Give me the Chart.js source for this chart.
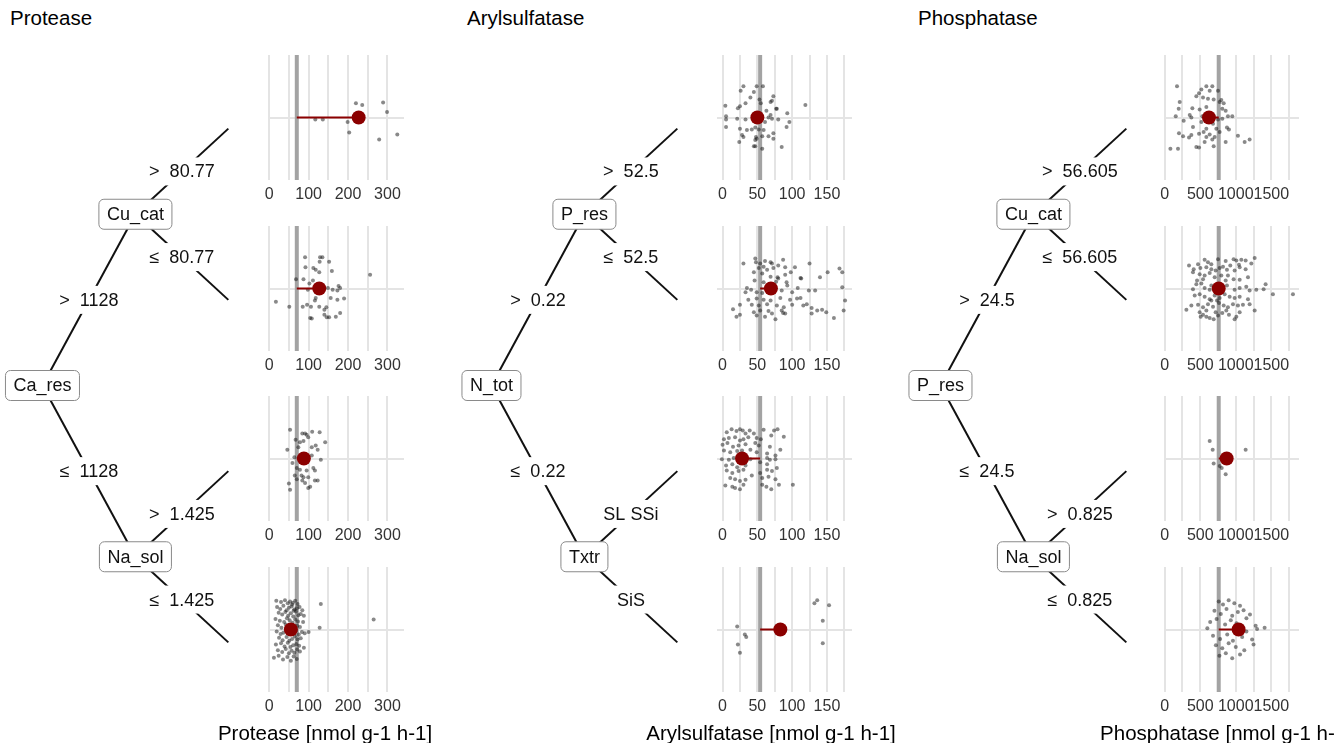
<!DOCTYPE html>
<html>
<head>
<meta charset="utf-8">
<script src="https://cdn.jsdelivr.net/npm/chart.js@4.4.1/dist/chart.umd.min.js"></script>
<style>
  body { margin: 0; background: #fff; width: 1336px; height: 743px; overflow: hidden; position: relative;
         font-family: "Liberation Sans", Arial, sans-serif; }
  canvas { position: absolute; }
  .title { position: absolute; font-size: 20.5px; line-height: 26px; color: #000; white-space: nowrap; }
  .axt { position: absolute; font-size: 20.5px; line-height: 24px; color: #000; white-space: nowrap; transform: translateX(-50%); }
</style>
</head>
<body>
<script>
// --- data ---
const panelNames = ['Protease', 'Arylsulfatase', 'Phosphatase'];
const axisTitles = ['Protease [nmol g-1 h-1]', 'Arylsulfatase [nmol g-1 h-1]', 'Phosphatase [nmol g-1 h-1]'];

// tree: root, upper inner node, lower inner node
const treeNodes = [
  ['Ca_res', 'Cu_cat', 'Na_sol'],
  ['N_tot', 'P_res', 'Txtr'],
  ['P_res', 'Cu_cat', 'Na_sol']
];
// edge labels: root->upper, root->lower, upper->leaf1, upper->leaf2, lower->leaf3, lower->leaf4
const treeEdgeLabels = [
  ['>  1128', '≤  1128', '>  80.77', '≤  80.77', '>  1.425', '≤  1.425'],
  ['>  0.22', '≤  0.22', '>  52.5', '≤  52.5', 'SL SSi', 'SiS'],
  ['>  24.5', '≤  24.5', '>  56.605', '≤  56.605', '>  0.825', '≤  0.825']
];

// overall mean (grey line) and leaf means (red dots)
const overallMeans = [70, 54, 760];
const proteaseLeafMeans = [227, 127, 88, 55];
const arylLeafMeans = [50, 69.5, 28, 83];
const phosLeafMeans = [623, 760, 872, 1040];

// x scales
const xRanges = [[-0.5, 342], [-8, 186], [-10, 1890]];
const xGrid = [
  [0, 50, 100, 150, 200, 250, 300],
  [0, 25, 50, 75, 100, 125, 150, 175],
  [0, 250, 500, 750, 1000, 1250, 1500, 1750]
];
const xTickLabels = [[0, 100, 200, 300], [0, 50, 100, 150], [0, 500, 1000, 1500]];

// observations per leaf: value and vertical jitter
const proteaseX = [
  [117, 136, 199, 203, 220, 236, 289, 299, 279, 325],
  [91, 129, 135, 128, 152, 92, 112, 118, 127, 159, 68, 87, 111, 102, 256, 149, 161, 176, 180, 173, 98, 17, 51, 85, 96, 106, 116, 118, 127, 140, 145, 156, 173, 190, 140, 146, 152, 169, 180, 104, 108],
  [53, 84, 91, 95, 109, 128, 67, 78, 87, 99, 142, 118, 74, 46, 108, 123, 64, 59, 131, 108, 70, 78, 95, 112, 116, 65, 70, 87, 99, 116, 123, 50, 53, 84, 91, 104, 99, 82],
  [18, 30, 40, 47, 53, 60, 66, 72, 58, 131,
   20, 28, 36, 44, 50, 57, 64, 70, 77, 84, 62,
   24, 33, 41, 48, 55, 61, 68, 74, 80, 88, 265,
   16, 27, 38, 45, 52, 59, 66, 73, 86,
   22, 31, 42, 49, 63, 71, 78, 128,
   19, 29, 36, 68, 75, 83, 90, 100,
   25, 34, 44, 51, 58, 65, 72, 80,
   17, 30, 39, 47, 54, 61, 69, 76, 88,
   22, 33, 42, 50, 57, 64, 71, 78,
   12, 24, 35, 46, 55, 62, 70]
];
const proteaseJitter = [
  [-0.03, -0.03, -0.07, -0.24, 0.23, 0.2, 0.24, 0.09, -0.35, -0.27],
  [0.5, 0.5, 0.5, 0.43, 0.43, 0.34, 0.33, 0.3, 0.26, 0.28, 0.15, 0.15, 0.13, 0.08, 0.22, 0.01, -0.02, 0.04, 0.01, -0.03, -0.02, -0.21, -0.29, -0.29, -0.26, -0.29, -0.19, -0.15, -0.29, -0.34, -0.3, -0.15, -0.18, -0.16, -0.42, -0.46, -0.46, -0.45, -0.39, -0.47, -0.48],
  [0.46, 0.4, 0.4, 0.38, 0.43, 0.42, 0.3, 0.26, 0.28, 0.34, 0.26, 0.21, 0.18, 0.14, 0.18, 0.14, 0.02, -0.07, -0.02, 0.05, -0.15, -0.18, -0.19, -0.15, -0.19, -0.27, -0.33, -0.3, -0.3, -0.35, -0.35, -0.4, -0.5, -0.35, -0.39, -0.45, -0.47, -0.27],
  [0.46, 0.44, 0.47, 0.42, 0.45, 0.43, 0.46, 0.41, 0.4, 0.41,
   0.36, 0.33, 0.38, 0.31, 0.35, 0.37, 0.32, 0.34, 0.36, 0.31, 0.3,
   0.27, 0.24, 0.28, 0.22, 0.26, 0.21, 0.29, 0.23, 0.25, 0.22, 0.16,
   0.17, 0.14, 0.12, 0.18, 0.15, 0.11, 0.16, 0.13, 0.12,
   0.07, 0.03, 0.08, 0.05, 0.02, 0.06, 0.04, 0.03,
   -0.03, -0.07, -0.05, -0.02, -0.08, -0.04, -0.06, -0.04,
   -0.13, -0.17, -0.12, -0.18, -0.15, -0.11, -0.16, -0.14,
   -0.24, -0.22, -0.27, -0.21, -0.28, -0.25, -0.23, -0.26, -0.29,
   -0.33, -0.36, -0.31, -0.38, -0.34, -0.37, -0.32, -0.35,
   -0.45, -0.42, -0.48, -0.44, -0.5, -0.43, -0.47]
];

const arylX = [
  [30, 26, 49, 58, 45, 40, 33, 25, 53, 55, 69, 73, 71, 77, 4, 22, 63, 69, 78, 93, 119, 5, 5, 21, 33, 66, 71, 80, 96, 5, 92, 25, 35, 42, 47, 52, 28, 30, 48, 57, 66, 73, 73, 24, 47, 49, 45, 47, 57, 85, 59, 61],
  [30, 47, 48, 54, 61, 69, 71, 87, 125, 52, 59, 64, 73, 80, 90, 104, 98, 168, 172, 151, 45, 57, 69, 79, 90, 112, 140, 46, 59, 77, 80, 93, 108, 172, 35, 41, 33, 49, 57, 85, 100, 124, 133, 176, 37, 49, 59, 69, 83, 97, 107, 112, 121, 25, 15, 42, 52, 64, 78, 88, 100, 116, 128, 136, 143, 45, 54, 66, 71, 85, 90, 20, 25, 49, 61, 76, 128, 149, 174, 160, 87, 113, 92, 69],
  [6, 13, 20, 25, 29, 33, 39, 45, 59, 74, 79, 88, 2, 9, 18, 25, 30, 37, 49, 55, 70, 0, 7, 15, 23, 33, 47, 52, 68, 83, 2, 11, 21, 28, 40, 49, 64, 76, -1, 9, 16, 40, 64, 68, 76, 5, 14, 21, 33, 54, 64, 78, 6, 14, 23, 30, 42, 54, 64, 71, 11, 18, 25, 33, 57, 66, 76, 4, 14, 18, 25, 30, 57, 63, 70, 81, 101],
  [21, 32, 34, 22, 25, 132, 136, 153, 144, 144]
];
const arylJitter = [
  [0.5, 0.43, 0.5, 0.5, 0.41, 0.32, 0.23, 0.18, 0.29, 0.23, 0.25, 0.34, 0.27, 0.14, 0.19, 0.15, 0.11, 0.04, 0.14, 0.07, 0.2, 0.02, -0.03, -0.02, -0.03, 0, -0.02, -0.03, -0.07, -0.15, -0.15, -0.18, -0.2, -0.19, -0.16, -0.19, -0.28, -0.31, -0.31, -0.3, -0.3, -0.25, -0.34, -0.39, -0.36, -0.34, -0.46, -0.46, -0.5, -0.47, -0.2, -0.07],
  [0.4, 0.48, 0.42, 0.4, 0.44, 0.42, 0.4, 0.46, 0.4, 0.33, 0.35, 0.3, 0.33, 0.37, 0.34, 0.34, 0.26, 0.32, 0.26, 0.26, 0.26, 0.24, 0.19, 0.18, 0.22, 0.17, 0.18, 0.13, 0.1, 0.11, 0.16, 0.05, 0.01, 0.02, 0.01, -0.02, -0.06, -0.06, -0.07, -0.03, -0.06, -0.03, -0.03, -0.19, -0.18, -0.16, -0.18, -0.19, -0.15, -0.18, -0.16, -0.15, -0.25, -0.26, -0.33, -0.26, -0.27, -0.25, -0.27, -0.3, -0.26, -0.27, -0.31, -0.35, -0.34, -0.38, -0.35, -0.36, -0.4, -0.35, -0.4, -0.45, -0.42, -0.43, -0.45, -0.49, -0.4, -0.38, -0.35, -0.47, -0.39, 0.16, 0.1, -0.02],
  [0.42, 0.47, 0.44, 0.47, 0.45, 0.4, 0.45, 0.4, 0.46, 0.45, 0.47, 0.35, 0.31, 0.33, 0.34, 0.29, 0.31, 0.34, 0.33, 0.31, 0.37, 0.22, 0.25, 0.19, 0.21, 0.23, 0.25, 0.21, 0.19, 0.14, 0.13, 0.1, 0.12, 0.13, 0.14, 0.1, 0.08, 0.05, -0.01, -0.02, 0.01, -0.01, 0.01, -0.02, -0.01, -0.11, -0.09, -0.14, -0.11, -0.06, -0.09, -0.15, -0.19, -0.23, -0.2, -0.18, -0.27, -0.23, -0.18, -0.2, -0.31, -0.33, -0.36, -0.34, -0.31, -0.29, -0.33, -0.43, -0.45, -0.47, -0.49, -0.42, -0.42, -0.45, -0.49, -0.42, -0.42],
  [0.05, -0.08, -0.12, -0.24, -0.37, 0.42, 0.47, 0.39, 0.14, -0.22]
];

const phosX = [
  [173, 586, 670, 516, 483, 633, 750, 445, 539, 609, 689, 797, 830, 211, 773, 197, 389, 492, 586, 811, 155, 352, 375, 530, 750, 811, 890, 951, 267, 516, 680, 876, 904, 398, 586, 727, 201, 258, 342, 375, 483, 548, 633, 703, 586, 670, 858, 1031, 1125, 1195, 80, 187, 445, 483, 689, 562, 773, 858],
  [562, 609, 656, 750, 858, 970, 1008, 1078, 1139, 1266, 1219, 1045,
   342, 408, 469, 502, 586, 656, 717, 773, 820, 876, 923, 984, 1055, 1139,
   398, 492, 562, 633, 703, 797, 890, 970, 1055, 1172, 455, 539, 858,
   445, 516, 562, 633, 876, 984, 1055, 1148, 1195, 1289, 1392, 1420, 1523, 1805, 398, 656,
   422, 492, 562, 633, 703, 773, 844, 914, 984, 1055, 1172, 656, 736,
   305, 375, 469, 539, 609, 680, 764, 830, 890, 961, 1031, 1101, 1195, 1266, 586, 867,
   492, 539, 586, 633, 689, 750, 811, 904, 1008, 984, 1055, 717, 506],
  [633, 675, 774, 802, 1139, 858, 689],
  [760, 820, 900, 980, 1060,
   700, 790, 870, 950, 1030, 1110, 1200,
   640, 730, 850, 930, 1010, 1150, 1280,
   600, 1150, 1300, 1406,
   680, 780, 880, 960, 1090, 1230,
   720, 810, 900, 1000, 1120, 1250,
   770, 860, 950, 1060]
];
const phosJitter = [
  [0.5, 0.5, 0.5, 0.45, 0.39, 0.43, 0.43, 0.34, 0.32, 0.3, 0.29, 0.28, 0.23, 0.25, 0.25, 0.14, 0.15, 0.13, 0.17, 0.14, 0.02, 0.04, 0, 0.02, -0.03, -0.02, 0.02, 0.02, -0.05, -0.07, -0.1, -0.16, -0.19, -0.15, -0.18, -0.18, -0.25, -0.3, -0.32, -0.28, -0.26, -0.23, -0.27, -0.31, -0.31, -0.35, -0.39, -0.29, -0.39, -0.35, -0.5, -0.5, -0.47, -0.48, -0.46, -0.39, -0.23, 0.11],
  [0.46, 0.42, 0.39, 0.47, 0.44, 0.47, 0.45, 0.46, 0.45, 0.49, 0.4, 0.38,
   0.37, 0.31, 0.39, 0.33, 0.34, 0.31, 0.29, 0.33, 0.35, 0.3, 0.37, 0.29, 0.34, 0.31,
   0.26, 0.23, 0.21, 0.25, 0.18, 0.21, 0.21, 0.15, 0.14, 0.18, 0.13, 0.15, 0.13,
   0.07, 0.08, 0.01, -0.02, 0.05, -0.02, 0.01, 0.03, -0.03, -0.02, -0.01, 0.07, -0.09, -0.09, -0.01, 0.05,
   -0.11, -0.09, -0.13, -0.17, -0.11, -0.15, -0.09, -0.13, -0.15, -0.13, -0.17, -0.19, -0.19,
   -0.34, -0.27, -0.26, -0.3, -0.25, -0.29, -0.23, -0.27, -0.3, -0.25, -0.27, -0.26, -0.25, -0.35, -0.35, -0.35,
   -0.38, -0.42, -0.45, -0.47, -0.49, -0.43, -0.39, -0.42, -0.45, -0.49, -0.38, -0.38, -0.45],
  [0.28, 0.14, -0.12, -0.15, 0.14, -0.25, -0.08],
  [0.45, 0.4, 0.47, 0.42, 0.38,
   0.3, 0.25, 0.33, 0.22, 0.28, 0.31, 0.24,
   0.12, 0.17, 0.08, 0.15, 0.1, 0.18, 0.06,
   0.02, -0.03, 0.01, 0.03,
   -0.1, -0.15, -0.08, -0.18, -0.12, -0.16,
   -0.25, -0.3, -0.22, -0.28, -0.33, -0.24,
   -0.42, -0.38, -0.46, -0.4]
];

const leafMeans = [proteaseLeafMeans, arylLeafMeans, phosLeafMeans];
const leafX = [proteaseX, arylX, phosX];
const leafJitter = [proteaseJitter, arylJitter, phosJitter];

// --- layout (pixels) ---
const plotLeft = [269.1, 716.7, 1164.3];
const plotWidth = 134.8;
const plotTop0 = 55, rowStep = 170.7, plotHeight = 125;
const treeRootX = [42.5, 491, 940];
const depthStep = 93;
const leafY0 = 128.5, leafStep = 171.3;
const titleLeft = [10, 467, 918];
const axisTitleCenter = [325, 771, 1226];

Chart.defaults.font.family = '"Liberation Sans", Arial, sans-serif';

function makeCanvas(left, top, w, h) {
  const c = document.createElement('canvas');
  c.width = Math.round(w);
  c.height = Math.round(h);
  c.style.left = left + 'px';
  c.style.top = top + 'px';
  c.style.width = Math.round(w) + 'px';
  c.style.height = Math.round(h) + 'px';
  document.body.appendChild(c);
  return c;
}

function addText(cls, text, left, top) {
  const d = document.createElement('div');
  d.className = cls;
  d.textContent = text;
  d.style.left = left + 'px';
  d.style.top = top + 'px';
  document.body.appendChild(d);
}

// tree: node positions come from depth and leaf order
const treeNodePos = [
  { x: 0, y: 1.5 }, { x: 1, y: 0.5 }, { x: 1, y: 2.5 },
  { x: 2, y: 0 }, { x: 2, y: 1 }, { x: 2, y: 2 }, { x: 2, y: 3 }
];
const treeEdges = [[0, 1], [0, 2], [1, 3], [1, 4], [2, 5], [2, 6]];

const treeLabelPlugin = {
  id: 'treeLabels',
  afterDatasetsDraw(chart, args, opts) {
    const ctx = chart.ctx;
    const sx = chart.scales.x, sy = chart.scales.y;
    ctx.save();
    ctx.font = '18px "Liberation Sans", Arial, sans-serif';
    ctx.textAlign = 'center';
    ctx.textBaseline = 'middle';
    // edge labels on white patches
    treeEdges.forEach((e, i) => {
      const a = treeNodePos[e[0]], b = treeNodePos[e[1]];
      const px = sx.getPixelForValue((a.x + b.x) / 2);
      const py = sy.getPixelForValue((a.y + b.y) / 2);
      const w = ctx.measureText(opts.edges[i]).width;
      ctx.fillStyle = '#fff';
      ctx.fillRect(px - w / 2 - 4, py - 14, w + 8, 28);
      ctx.fillStyle = '#111';
      ctx.fillText(opts.edges[i], px, py + 1);
    });
    // inner nodes as rounded boxes
    opts.nodes.forEach((name, i) => {
      const p = treeNodePos[i];
      const px = sx.getPixelForValue(p.x);
      const py = sy.getPixelForValue(p.y);
      const w = ctx.measureText(name).width + 16;
      ctx.beginPath();
      ctx.roundRect(px - w / 2, py - 15, w, 30, 5);
      ctx.fillStyle = '#fff';
      ctx.fill();
      ctx.lineWidth = 1;
      ctx.strokeStyle = '#8a8a8a';
      ctx.stroke();
      ctx.fillStyle = '#111';
      ctx.fillText(name, px, py + 1);
    });
    ctx.restore();
  }
};

function drawTree(p) {
  const left = treeRootX[p] - 0.5 * depthStep;
  const top = leafY0 - 0.5 * leafStep;
  const c = makeCanvas(left, top, 2.55 * depthStep, 4 * leafStep);
  new Chart(c, {
    type: 'scatter',
    data: {
      datasets: treeEdges.map(e => ({
        data: [treeNodePos[e[0]], treeNodePos[e[1]]],
        showLine: true,
        borderColor: '#111',
        borderWidth: 2,
        pointRadius: 0,
        clip: false
      }))
    },
    options: {
      responsive: false,
      animation: false,
      events: [],
      layout: { padding: 0, autoPadding: false },
      plugins: {
        legend: { display: false },
        tooltip: { enabled: false },
        treeLabels: { nodes: treeNodes[p], edges: treeEdgeLabels[p] }
      },
      scales: {
        x: { display: false, min: -0.5, max: 2.05 },
        y: { display: false, min: -0.5, max: 3.5, reverse: true }
      }
    },
    plugins: [treeLabelPlugin]
  });
}

function drawLeaf(p, r) {
  const padX = 26, axisH = 30;
  const c = makeCanvas(plotLeft[p] - padX, plotTop0 + r * rowStep, plotWidth + 2 * padX, plotHeight + axisH);
  const mean = overallMeans[p];
  const nodeMean = leafMeans[p][r];
  const pts = leafX[p][r].map((x, i) => ({ x: x, y: leafJitter[p][r][i] }));
  new Chart(c, {
    type: 'scatter',
    data: {
      datasets: [
        { data: [{ x: nodeMean, y: 0 }], pointRadius: 7, backgroundColor: '#8b0000', borderWidth: 0, order: 1 },
        { data: [{ x: mean, y: 0 }, { x: nodeMean, y: 0 }], showLine: true, borderColor: '#8b0000',
          borderWidth: 2, pointRadius: 0, order: 2 },
        { data: pts, pointRadius: 2, backgroundColor: 'rgba(20,20,20,0.5)', borderWidth: 0, order: 3 },
        { data: [{ x: mean, y: -1 }, { x: mean, y: 1 }], showLine: true, borderColor: '#a3a3a3',
          borderWidth: 4, pointRadius: 0, order: 4 }
      ]
    },
    options: {
      responsive: false,
      animation: false,
      events: [],
      layout: { padding: { left: padX, right: padX, top: 0, bottom: 0 }, autoPadding: false },
      plugins: { legend: { display: false }, tooltip: { enabled: false } },
      scales: {
        x: {
          min: xRanges[p][0],
          max: xRanges[p][1],
          afterBuildTicks: s => { s.ticks = xGrid[p].map(v => ({ value: v })); },
          afterFit: s => { s.height = axisH; },
          ticks: {
            autoSkip: false,
            maxRotation: 0,
            padding: 5,
            color: '#333',
            font: { size: 16 },
            callback: v => xTickLabels[p].includes(v) ? String(v) : ''
          },
          grid: { color: '#e4e4e4', lineWidth: 2, drawTicks: false },
          border: { display: false }
        },
        y: {
          min: -1,
          max: 1,
          afterBuildTicks: s => { s.ticks = [{ value: 0 }]; },
          afterFit: s => { s.width = 0; },
          ticks: { display: false },
          grid: { color: '#e4e4e4', lineWidth: 2, drawTicks: false },
          border: { display: false }
        }
      }
    }
  });
}

for (let p = 0; p < 3; p++) {
  addText('title', panelNames[p], titleLeft[p], 5);
  drawTree(p);
  for (let r = 0; r < 4; r++) drawLeaf(p, r);
  addText('axt', axisTitles[p], axisTitleCenter[p], 721);
}
</script>
</body>
</html>
